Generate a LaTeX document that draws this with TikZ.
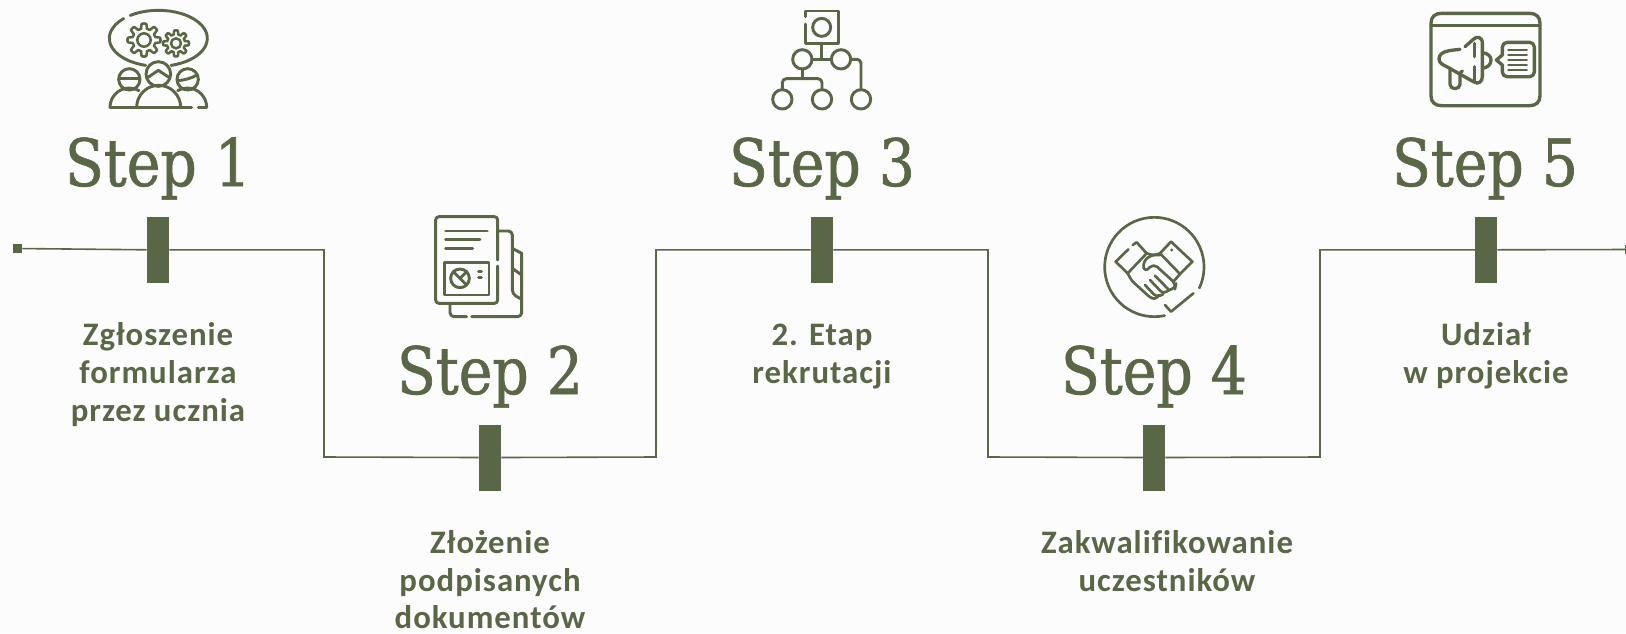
\documentclass[tikz,border=0pt]{standalone}
\usepackage{fontspec}
\newfontfamily\stepfont[FakeStretch=0.87,FakeBold=1.0]{DejaVu Serif}
\newfontfamily\labfont[LetterSpace=3.0,Ligatures=NoCommon]{Carlito Bold}
\definecolor{olive}{HTML}{5A6746}
\tikzset{
  px/.style={x=0.75pt,y=-0.75pt},
  bar/.style={fill=olive,draw=none,minimum width=16.5pt,minimum height=49.5pt,inner sep=0pt},
  link/.style={draw=olive,line width=1.2pt},
  stepttl/.style={anchor=base,text=olive,font=\stepfont\fontsize{49}{50}\selectfont,inner sep=0pt},
  lab/.style={anchor=base,text=olive,font=\labfont\fontsize{24.6}{25}\selectfont,inner sep=0pt},
  endsq/.style={fill=olive,draw=none,minimum size=6.8pt,inner sep=0pt},
  icon/.style={draw=olive,line width=2.2pt,line cap=round,line join=round},
  zoomed/.style={shift={#1},x=0.25pt,y=-0.25pt}
}
\newcommand{\gearpath}[5]{% cx cy rbase amp
  \draw[icon,line width=1.9pt] plot[domain=0:360,samples=121] ({#1+(#3+#4*max(-1,min(1,2.2*cos(8*\x))))*cos(\x)},{#2+(#3+#4*max(-1,min(1,2.2*cos(8*\x))))*sin(\x)}) -- cycle;
  \draw[icon,line width=1.9pt] (#1,#2) circle[radius=#5];
}
\begin{document}
\begin{tikzpicture}[px]
\useasboundingbox (0,0) rectangle (1626,633);
\clip (0,0) rectangle (1626,633);
\fill[white!99!black] (0,0) rectangle (1626,633);

% connector
\node[endsq] (start) at (17.5,248.5) {};
\node[endsq] (stop) at (1630,249.5) {};
\node[bar] (b1) at (158,249.8) {};
\node[bar] (b2) at (490,457.5) {};
\node[bar] (b3) at (822,249.8) {};
\node[bar] (b4) at (1154,457.5) {};
\node[bar] (b5) at (1486,249.8) {};
\coordinate (c1) at (324,249.8);
\coordinate (c2) at (324,457);
\coordinate (c3) at (656,457);
\coordinate (c4) at (656,249.8);
\coordinate (c5) at (988,249.8);
\coordinate (c6) at (988,457);
\coordinate (c7) at (1320,457);
\coordinate (c8) at (1320,249.8);
\draw[link] (start) -- (b1.west);
\draw[link] (b1.east) -- (c1) -- (c2) -- (b2.west);
\draw[link] (b2.east) -- (c3) -- (c4) -- (b3.west);
\draw[link] (b3.east) -- (c5) -- (c6) -- (b4.west);
\draw[link] (b4.east) -- (c7) -- (c8) -- (b5.west);
\draw[link] (b5.east) -- (stop);

% titles
\node[stepttl] (s1) at (158,186) {Step 1};
\node[stepttl] (s2) at (490,394) {Step 2};
\node[stepttl] (s3) at (822,186) {Step 3};
\node[stepttl] (s4) at (1154,394) {Step 4};
\node[stepttl] (s5) at (1485,186) {Step 5};

% labels
\node[lab] (l1a) at (158,345) {Zgłoszenie};
\node[lab] (l1b) at (158,383) {formularza};
\node[lab] (l1c) at (158,421) {przez ucznia};
\node[lab] (l2a) at (490,553) {Złożenie};
\node[lab] (l2b) at (490,591) {podpisanych};
\node[lab] (l2c) at (490,628.5) {dokumentów};
\node[lab] (l3a) at (822,345) {2. Etap};
\node[lab] (l3b) at (822,383) {rekrutacji};
\node[lab] (l4a) at (1167,553) {Zakwalifikowanie};
\node[lab] (l4b) at (1167,591) {uczestników};
\node[lab] (l5a) at (1486,345) {Udział};
\node[lab] (l5b) at (1486,383) {w projekcie};

% icon 1
\begin{scope}[zoomed={(90,0)}]
  \draw[icon] (205,115) ++(235:147 and 84) arc[start angle=235,end angle=435,x radius=147,y radius=84];
  \draw[icon] (205,115) ++(105:147 and 84) arc[start angle=105,end angle=225,x radius=147,y radius=84];
  \gearpath{162}{120}{42}{7.5}{20}
  \gearpath{258}{130}{33}{6}{15}
  \draw[icon] (205,222) circle[radius=37];
  \draw[icon] (174,232) -- (205,211) -- (237,232);
  \draw[icon] (118,238) circle[radius=32];
  \draw[icon] (88,235) -- (148,235);
  \draw[icon] (293,238) circle[radius=32];
  \draw[icon] (263,242) .. controls (285,240) and (305,235) .. (322,224);
  \draw[icon] (140,322) arc[start angle=180,end angle=360,radius=66];
  \draw[icon] (60,322) arc[start angle=180,end angle=300,radius=58];
  \draw[icon] (350,322) arc[start angle=360,end angle=240,radius=58];
  \draw[icon] (60,323) -- (305,323);
  \draw[icon] (325,323) -- (350,323);
\end{scope}

% icon 2
\begin{scope}[zoomed={(425,210)}]
  \draw[icon,rounded corners=2.4pt] (218,150) -- (218,20) -- (32,20) -- (32,280) -- (218,280) -- (218,168);
  \draw[icon] (62,63) -- (187,63);
  \draw[icon] (62,88) -- (165,88);
  \draw[icon] (62,115) -- (143,115);
  \draw[icon] (58,158) rectangle (192,255);
  \draw[icon] (105,205) circle[radius=28];
  \draw[icon] (86,186) -- (125,225);
  \draw[icon] (105,205) -- (125,185);
  \draw[icon] (161,185) -- (169,185);
  \draw[icon] (161,203) -- (169,203);
  \draw[icon,rounded corners=3pt] (222,63) -- (262,63) -- (262,252) -- (290,268);
  \draw[icon] (262,115) -- (290,130);
  \draw[icon] (262,175) -- (290,195);
  \draw[icon,rounded corners=3pt] (290,130) -- (290,320) -- (140,320);
  \draw[icon,rounded corners=3pt] (125,320) -- (75,320) -- (75,282);
\end{scope}

% icon 3
\begin{scope}[zoomed={(730,0)}]
  \draw[icon] (226,50) -- (226,33) -- (326,33) -- (326,130) -- (226,130) -- (226,72);
  \draw[icon] (275,82) circle[radius=27];
  \draw[icon] (275,130) -- (275,178);
  \draw[icon] (217,178) circle[radius=29];
  \draw[icon] (333,178) circle[radius=29];
  \draw[icon] (246,178) -- (304,178);
  \draw[icon] (217,207) -- (217,236);
  \draw[icon,rounded corners=3pt] (157,268) -- (157,236) -- (276,236) -- (276,268);
  \draw[icon] (157,298) circle[radius=29];
  \draw[icon] (276,298) circle[radius=29];
  \draw[icon] (393,298) circle[radius=29];
  \draw[icon,rounded corners=3pt] (362,178) -- (393,178) -- (393,268);
\end{scope}

% icon 4
\begin{scope}[zoomed={(1095,210)}]
  \draw[icon,line width=2pt] (178,171) ++(78:149) arc[start angle=78,end angle=385,radius=149];
  \draw[icon,line width=2pt] (210,285) -- (228,305) -- (295,250);
  \draw[icon,line width=2pt] (100,118) -- (62,155) -- (98,190) -- (155,130) -- (125,97) -- (113,105);
  \draw[icon,line width=2pt] (195,130) -- (228,95) -- (292,155) -- (255,192) -- cycle;
  \fill[olive] (230,120) circle[radius=5];
  \draw[icon,line width=2pt] (155,130) .. controls (170,136) and (180,136) .. (195,130);
  \draw[icon,line width=2pt,rounded corners=2pt] (98,190) -- (110,212) -- (165,262) -- (180,268) -- (192,255);
  \draw[icon,line width=2pt,rounded corners=4pt] (195,135) -- (165,135) -- (142,160) -- (150,187) -- (175,160) -- (243,222) -- (240,236) -- (222,240);
  \draw[icon,line width=2pt] (255,192) -- (236,214);
  \draw[icon,line width=2pt,rounded corners=3pt] (150,225) -- (185,262) -- (205,252);
  \draw[icon,line width=2pt,rounded corners=3pt] (165,210) -- (205,252) -- (222,240);
  \draw[icon,line width=2pt] (180,197) -- (222,240);
\end{scope}

% icon 5
\begin{scope}[zoomed={(1425,5)},icon/.append style={line width=2.5pt}]
  \draw[icon] (18,55) .. controls (18,35) and (30,25) .. (50,25) -- (313,25) .. controls (333,25) and (345,35) .. (345,55) -- (345,272) .. controls (345,292) and (333,302) .. (313,302) -- (50,302) .. controls (30,302) and (18,292) .. (18,272) -- cycle;
  \draw[icon] (18,62) -- (345,62);
  \draw[icon] (105,133) .. controls (85,136) and (42,135) .. (42,162) .. controls (42,175) and (55,180) .. (65,185) -- (145,230) .. controls (160,240) and (172,230) .. (172,215) -- (172,115) .. controls (172,95) and (155,92) .. (145,103) -- (120,125);
  \draw[icon] (148,115) -- (148,155);
  \draw[icon] (148,185) -- (148,228);
  \draw[icon] (172,143) .. controls (190,145) and (198,155) .. (198,165) .. controls (198,178) and (188,188) .. (172,190);
  \draw[icon] (75,190) -- (75,238) .. controls (75,255) and (105,255) .. (105,238) -- (105,210) .. controls (105,204) and (108,200) .. (112,198);
  \draw[icon,rounded corners=3.5pt] (232,150) -- (232,112) -- (328,112) -- (328,215) -- (232,215) -- (232,180);
  \draw[icon] (232,150) -- (214,165) -- (232,180);
  \foreach \yy in {135,150,165,180,195}{\draw[icon,line width=2pt] (250,\yy) -- (305,\yy);}
\end{scope}
\end{tikzpicture}
\end{document}
